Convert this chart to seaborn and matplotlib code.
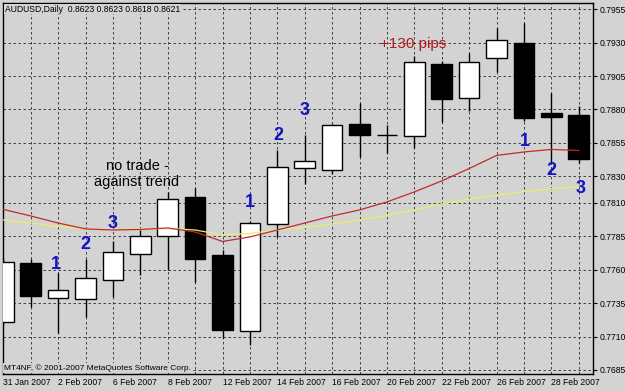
import numpy as np
import pandas as pd
import matplotlib
matplotlib.use("Agg")
import matplotlib.pyplot as plt
import seaborn as sns

# ---- data ----
dates = ["31 Jan 2007", "1 Feb 2007", "2 Feb 2007", "5 Feb 2007", "6 Feb 2007", "7 Feb 2007",
         "8 Feb 2007", "9 Feb 2007", "12 Feb 2007", "13 Feb 2007", "14 Feb 2007", "15 Feb 2007",
         "16 Feb 2007", "19 Feb 2007", "20 Feb 2007", "21 Feb 2007", "22 Feb 2007", "23 Feb 2007",
         "26 Feb 2007", "27 Feb 2007", "28 Feb 2007", "1 Mar 2007"]
opens = [0.77212, 0.77653, 0.77391, 0.77384, 0.77522, 0.77716, 0.77851, 0.78143, 0.77711, 0.77142, 0.77943,
         0.78360, 0.78347, 0.78691, 0.78609, 0.78605, 0.79141, 0.78884, 0.79188, 0.79300, 0.78772, 0.78759]
highs = [0.77688, 0.77679, 0.77574, 0.77679, 0.77816, 0.77898, 0.78185, 0.78215, 0.77748, 0.77962, 0.78497,
         0.78609, 0.78691, 0.78846, 0.78684, 0.79200, 0.79163, 0.79221, 0.79408, 0.79450, 0.78921, 0.78826]
lows = [0.77187, 0.77324, 0.77129, 0.77245, 0.77399, 0.77561, 0.77599, 0.77511, 0.77090, 0.77037, 0.77848,
        0.78242, 0.78320, 0.78447, 0.78477, 0.78510, 0.78709, 0.78789, 0.79083, 0.78715, 0.78392, 0.78397]
closes = [0.77661, 0.77404, 0.77447, 0.77537, 0.77731, 0.77855, 0.78128, 0.77679, 0.77150, 0.77948, 0.78367,
          0.78412, 0.78684, 0.78611, 0.78609, 0.79153, 0.78876, 0.79158, 0.79320, 0.78734, 0.78742, 0.78427]
ma_red = [0.78052, 0.78003, 0.77950, 0.77906, 0.77898, 0.77902, 0.77913, 0.77883, 0.77812, 0.77846, 0.77898,
          0.77950, 0.78003, 0.78048, 0.78108, 0.78183, 0.78265, 0.78358, 0.78456, 0.78482, 0.78501, 0.78493]
ma_yellow = [0.77973, 0.77950, 0.77924, 0.77906, 0.77902, 0.77906, 0.77909, 0.77898, 0.77861, 0.77872, 0.77898,
             0.77917, 0.77943, 0.77973, 0.78010, 0.78048, 0.78093, 0.78130, 0.78160, 0.78185, 0.78209, 0.78220]
yticks = [0.7955, 0.7930, 0.7905, 0.7880, 0.7855, 0.7830, 0.7810, 0.7785, 0.7760, 0.7735, 0.7710, 0.7685]
xlabel_idx = [0, 2, 4, 6, 8, 10, 12, 14, 16, 18, 20]

count_labels = ["1", "2", "3", "1", "2", "3", "1", "2", "3"]
count_x = [1.9, 3.0, 4.0, 8.98, 10.03, 11.0, 19.04, 20.01, 21.07]
count_y = [0.77636, 0.77793, 0.77943, 0.78102, 0.78602, 0.78789, 0.78557, 0.78343, 0.78210]

BG = "#d3d3d3"
sns.set_theme(style="white")
plt.rcParams['font.family'] = ['Liberation Sans', 'DejaVu Sans']

fig = plt.figure(figsize=(6.25, 3.91), dpi=100, facecolor=BG)
ax = fig.add_axes([2.5 / 625, 17 / 391, (593 - 2.5) / 625, (374 - 3) / 391])
ax.set_facecolor(BG)

idx = np.arange(len(dates))
df = pd.DataFrame({"i": idx, "open": opens, "high": highs, "low": lows, "close": closes,
                   "red": ma_red, "yellow": ma_yellow})

# grid
ax.set_xticks(idx)
ax.set_yticks(yticks)
ax.grid(True, color="#2a2a2a", linestyle=(0, (3, 3)), linewidth=0.6)
ax.set_axisbelow(True)

# wicks
ax.vlines(df["i"], df["low"], df["high"], color="black", linewidth=1.0, zorder=2)
# bodies
up = df["close"] >= df["open"]
bottoms = np.minimum(df["open"], df["close"])
heights = np.abs(df["close"] - df["open"])
ax.bar(df["i"][up], heights[up], bottom=bottoms[up], width=0.75, color="white",
       edgecolor="black", linewidth=1.0, zorder=3)
ax.bar(df["i"][~up], heights[~up], bottom=bottoms[~up], width=0.75, color="black",
       edgecolor="black", linewidth=1.0, zorder=3)

# moving averages
sns.lineplot(data=df, x="i", y="yellow", color="#eded6a", linewidth=0.9, ax=ax, zorder=4)
sns.lineplot(data=df, x="i", y="red", color="#c42a2a", linewidth=0.9, ax=ax, zorder=5)

# annotations
for t, x, y in zip(count_labels, count_x, count_y):
    ax.text(x, y, t, color="#1212c8", fontsize=13, fontweight="bold", ha="center", va="center", zorder=6)
ax.text(4.88, 0.78317, "no trade -\nagainst trend", color="black", fontsize=10.5,
        ha="center", va="center", linespacing=1.15, zorder=6)
ax.text(14.95, 0.79290, "+130 pips", color="#b01818", fontsize=11, ha="center", va="center", zorder=6)

ax.set_xlim(-0.03, 21.52)
ax.set_ylim(0.76820, 0.79597)

# y axis on right
ax.yaxis.tick_right()
ax.set_yticklabels([f"{v:.4f}" for v in yticks], fontsize=6.2)
ax.tick_params(axis="y", which="both", right=True, length=3, width=0.8, pad=1.5, colors="black")
ax.set_xticklabels([dates[i] if i in xlabel_idx else "" for i in idx], fontsize=6.2)
for lab in ax.get_xticklabels():
    lab.set_horizontalalignment("left")
ax.tick_params(axis="x", bottom=True, length=0, pad=3, colors="black")
ax.set_xlabel("")
ax.set_ylabel("")
for s in ax.spines.values():
    s.set_color("black")
    s.set_linewidth(1.0)
    s.set_visible(True)

fig.text(5 / 625, 1 - 9 / 391, "AUDUSD,Daily  0.8623 0.8623 0.8618 0.8621", fontsize=6.2,
         ha="left", va="center", color="black",
         bbox=dict(facecolor=BG, edgecolor="none", pad=0.5))
fig.text(4 / 625, 1 - 368 / 391, "MT4NF, © 2001-2007 MetaQuotes Software Corp.", fontsize=6.0,
         ha="left", va="center", color="black",
         bbox=dict(facecolor=BG, edgecolor="none", pad=0.5))

fig.savefig("out.png", dpi=100, facecolor=BG)
